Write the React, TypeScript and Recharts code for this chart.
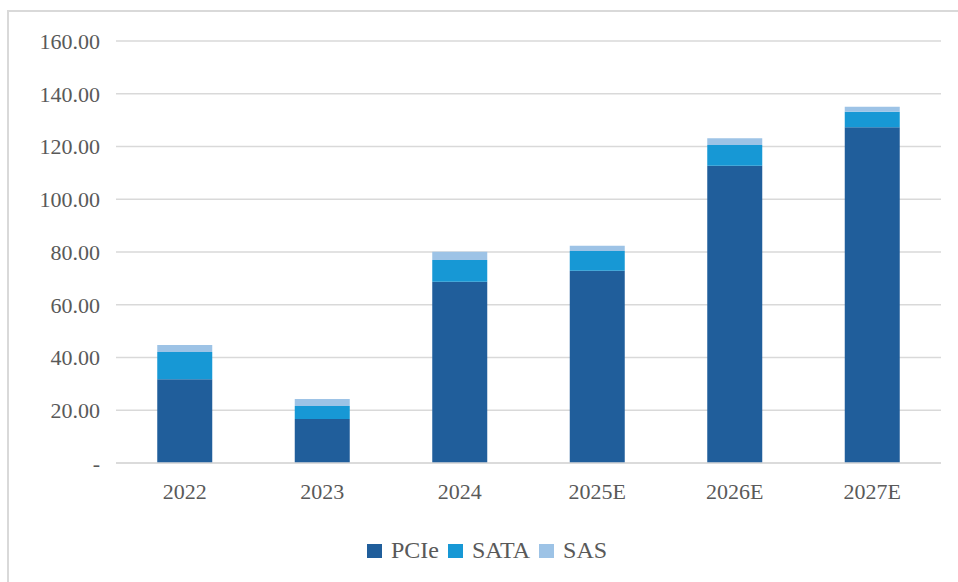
import { BarChart, Bar, XAxis, YAxis, CartesianGrid, Legend } from "recharts";

const years = ["2022", "2023", "2024", "2025E", "2026E", "2027E"];
const pcie = [31.8, 16.7, 68.7, 72.9, 112.7, 127.3];
const sata = [10.3, 4.9, 8.3, 7.5, 7.9, 5.9];
const sas = [2.6, 2.7, 3.1, 2.0, 2.5, 1.9];
const yTicks = [0, 20, 40, 60, 80, 100, 120, 140, 160];

const series = [
  { key: "PCIe", color: "#205E9B" },
  { key: "SATA", color: "#1798D5" },
  { key: "SAS", color: "#9DC3E6" },
];

const data = years.map((year, i) => ({
  year,
  PCIe: pcie[i],
  SATA: sata[i],
  SAS: sas[i],
}));

const font = '"Liberation Serif", "Times New Roman", serif';

function LegendBox() {
  return (
    <div style={{ display: "flex", alignItems: "center", fontFamily: font, fontSize: 24, color: "#595959" }}>
      {series.map((s) => (
        <div key={s.key} style={{ display: "flex", alignItems: "center", marginRight: 9 }}>
          <span style={{ width: 15, height: 14, background: s.color, display: "inline-block", marginRight: 9 }} />
          <span>{s.key}</span>
        </div>
      ))}
    </div>
  );
}

export default function App() {
  return (
    <div style={{ position: "absolute", left: 0, top: 0, width: 958, height: 582, overflow: "hidden", background: "#fff" }}>
      <div
        style={{
          position: "absolute",
          left: 7,
          top: 10,
          width: 1000,
          height: 1000,
          border: "2px solid #D9D9D9",
          boxSizing: "border-box",
        }}
      />
      <div style={{ position: "absolute", left: 0, top: 0 }}>
        <BarChart width={958} height={582} data={data} margin={{ top: 41, right: 17, left: 0, bottom: 79 }} barCategoryGap="30%">
          <CartesianGrid vertical={false} stroke="#D9D9D9" strokeWidth={1.5} />
          <XAxis
            dataKey="year"
            height={40}
            tickLine={false}
            tickSize={0}
            tickMargin={20}
            axisLine={{ stroke: "#D9D9D9", strokeWidth: 1.5 }}
            tick={{ fill: "#595959", fontSize: 22, fontFamily: font }}
          />
          <YAxis
            width={116}
            domain={[0, 160]}
            ticks={yTicks}
            interval={0}
            axisLine={false}
            tickLine={false}
            tickSize={0}
            tickMargin={16}
            tickFormatter={(v: number) => (v === 0 ? "-" : v.toFixed(2))}
            tick={{ fill: "#595959", fontSize: 22, fontFamily: font }}
          />
          <Legend
            layout="vertical"
            align="center"
            verticalAlign="middle"
            content={() => <LegendBox />}
            wrapperStyle={{ left: 367, top: 537, bottom: "auto", width: "auto" }}
          />
          {series.map((s) => (
            <Bar key={s.key} dataKey={s.key} stackId="a" fill={s.color} isAnimationActive={false} />
          ))}
        </BarChart>
      </div>
    </div>
  );
}
